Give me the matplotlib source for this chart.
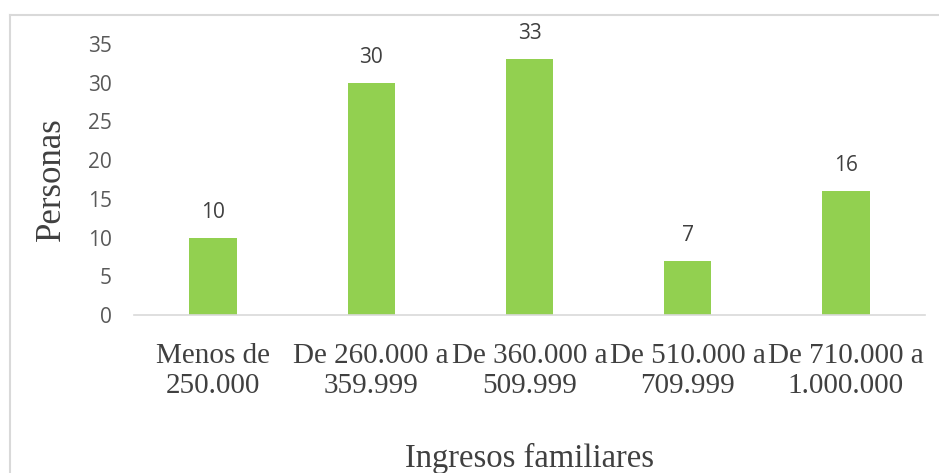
import matplotlib.pyplot as plt
from matplotlib.lines import Line2D

categorias = ["Menos de\n250.000", "De 260.000 a\n359.999", "De 360.000 a\n509.999",
              "De 510.000 a\n709.999", "De 710.000 a\n1.000.000"]
personas = [10, 30, 33, 7, 16]
yticks = [0, 5, 10, 15, 20, 25, 30, 35]

W, H = 939, 473
fig = plt.figure(figsize=(W / 100, H / 100), dpi=100)
ax = fig.add_axes([134 / W, 1 - 315 / H, (925 - 134) / W, (315 - 44) / H])

x = range(len(categorias))
bars = ax.bar(x, personas, width=0.30, color="#92d050", zorder=2)
for b, v in zip(bars, personas):
    ax.text(b.get_x() + b.get_width() / 2, v + 3.3, str(v), ha="center", va="center",
            fontsize=15, color="#404040", family="Open Sans")

ax.set_xlim(-0.5, len(categorias) - 0.5)
ax.set_ylim(0, 35)
ax.set_yticks(yticks)
ax.set_yticklabels([str(t) for t in yticks], family="Open Sans", fontsize=15, color="#595959")
ax.set_xticks(list(x))
ax.set_xticklabels(categorias, family="Liberation Serif", fontsize=21, color="#404040",
                   linespacing=1.2)
ax.tick_params(axis="both", length=0)
ax.tick_params(axis="y", pad=16)
ax.tick_params(axis="x", pad=20)
for s in ["top", "right", "left"]:
    ax.spines[s].set_visible(False)
ax.spines["bottom"].set_color("#d9d9d9")
ax.spines["bottom"].set_linewidth(1.2)

ax.set_ylabel("Personas", family="Liberation Serif", fontsize=25, color="#404040", labelpad=14)
ax.set_xlabel("Ingresos familiares", family="Liberation Serif", fontsize=23.5, color="#404040",
              labelpad=32)

# chart border (left and top visible)
fig.add_artist(Line2D([9.5 / W, 9.5 / W], [0, 1 - 15 / H], transform=fig.transFigure,
                      color="#d9d9d9", lw=1.5))
fig.add_artist(Line2D([9.5 / W, 1], [1 - 15 / H, 1 - 15 / H], transform=fig.transFigure,
                      color="#d9d9d9", lw=1.5))

fig.savefig("out.png", dpi=100)
